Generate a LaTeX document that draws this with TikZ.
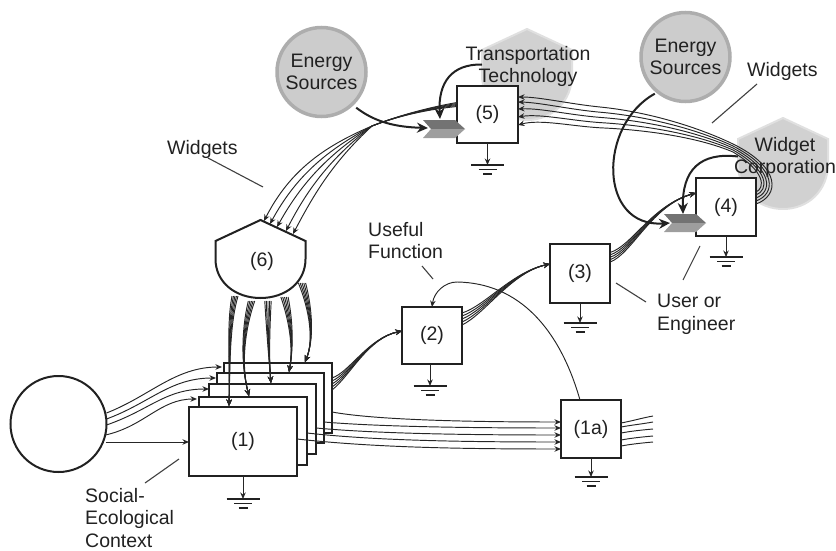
\documentclass[tikz,border=0pt]{standalone}
\usepackage{fontspec}
\setmainfont{Liberation Sans}
\usetikzlibrary{arrows.meta,calc}
\definecolor{ink}{gray}{0.13}
\tikzset{
  x=1pt,y=-1pt,
  txt/.style={font=\fontsize{19.5}{22.5}\selectfont,text=ink,align=left,inner sep=0pt},
  boxn/.style={draw=ink,line width=2pt,fill=white,inner sep=0pt,outer sep=0pt,font=\fontsize{19.5}{23}\selectfont,text=ink},
  grayc/.style={circle,draw=black!32,line width=3.5pt,fill=black!20,minimum size=89pt,inner sep=0pt,align=center,font=\fontsize{19.5}{22.5}\selectfont,text=ink},
  whitec/.style={circle,draw=ink,line width=2pt,fill=white,minimum size=96pt,inner sep=0pt,outer sep=0pt},
  thin line/.style={draw=black!85,line width=0.95pt},
  small arrow/.style={thin line,-{Stealth[length=6.5pt,width=5.5pt]}},
  big arrow/.style={draw=ink,line width=2pt,-{Stealth[length=11pt,width=10pt]}},
  leader/.style={draw=black!75,line width=1.1pt},
}
\newcommand{\boxat}[6]{\node[boxn,minimum width=#4,minimum height=#5] (#1) at (#2,#3) {#6};}
\newcommand{\gnd}[4]{%
  \coordinate (#1) at ([xshift=#3]#2.south |- 0,#4);
  \draw[small arrow] ([xshift=#3]#2.south) -- (#1);
  \draw[draw=ink,line width=1.6pt] ($(#1)+(-16.5,0)$) -- ($(#1)+(16.5,0)$);
  \draw[draw=ink,line width=1.6pt] ($(#1)+(-9,4.5)$) -- ($(#1)+(9,4.5)$);
  \draw[draw=ink,line width=1.8pt] ($(#1)+(-4.5,9)$) -- ($(#1)+(4.5,9)$);
}
% hood: apex x, apex y, height, style
\newcommand{\hood}[4]{\path[#4] (#1,#2) -- (#1+45,#2+21) -- (#1+45,#2+#3*0.5) .. controls (#1+45,#2+#3*0.8) and (#1+25,#2+#3) .. (#1,#2+#3) .. controls (#1-25,#2+#3) and (#1-45,#2+#3*0.8) .. (#1-45,#2+#3*0.5) -- (#1-45,#2+21) -- cycle;}
\newcommand{\chev}[2]{%
  \fill[black!55] (#1,#2) -- (#1+32,#2) -- (#1+42,#2+9) -- (#1+8,#2+9) -- cycle;
  \fill[black!38] (#1+8,#2+9) -- (#1+42,#2+9) -- (#1+32,#2+18) -- (#1,#2+18) -- cycle;
}
\begin{document}
\begin{tikzpicture}
\useasboundingbox (0,0) rectangle (836,551);
% gray shapes
\hood{527}{29}{91}{fill=black!18,draw=black!12,line width=2pt}
\hood{783}{118}{91}{fill=black!18,draw=black!12,line width=2pt}
\node[grayc] (es1) at (321.5,72) {Energy\\Sources};
\node[grayc] (es2) at (685.5,57) {Energy\\Sources};
% labels
\node[txt,align=center] (ttech) at (528,66.5) {Transportation\\Technology};
\node[txt,align=center] (wcorp) at (785,157.5) {Widget\\Corporation};
\node[txt,anchor=west] (wl) at (167,149) {Widgets};
\node[txt,anchor=west] (wr) at (747,71) {Widgets};
\node[txt,anchor=west] (uf) at (368,240.5) {Useful\\Function};
\node[txt,anchor=west] (ue) at (657,314.5) {User or\\Engineer};
\node[txt,anchor=west] (sec) at (85,518) {Social-\\Ecological\\Context};
% leaders
\coordinate (l1a) at (208,158); \coordinate (l1b) at (263,187);
\coordinate (l2a) at (757,84); \coordinate (l2b) at (712,123);
\coordinate (l3a) at (422,266); \coordinate (l3b) at (433,279);
\coordinate (l4a) at (616,283); \coordinate (l4b) at (646,302);
\coordinate (l5a) at (700,246); \coordinate (l5b) at (683,280);
\coordinate (l6a) at (179,459); \coordinate (l6b) at (145,483);
\foreach \p/\q in {l1a/l1b,l2a/l2b,l3a/l3b,l4a/l4b,l5a/l5b,l6a/l6b} \draw[leader] (\p) -- (\q);
% left circle
\node[whitec] (ctx) at (58.5,424) {};
% stacked boxes
\boxat{st5}{278}{398}{108pt}{70pt}{}
\boxat{st4}{270.5}{408}{107pt}{70pt}{}
\boxat{st3}{262.5}{419}{107pt}{70pt}{}
\boxat{st2}{253}{431}{108pt}{68pt}{}
\boxat{st1}{243}{441.5}{108pt}{69pt}{(1)}
\boxat{b2}{432}{335.5}{60pt}{57pt}{(2)}
\boxat{b3}{580}{273.5}{60pt}{59pt}{(3)}
\boxat{b1a}{591}{429}{60pt}{58pt}{(1a)}
\boxat{b5}{487.5}{114.5}{61pt}{57pt}{(5)}
\boxat{b4}{726}{207}{60pt}{58pt}{(4)}
% grounds
\gnd{g1}{st1}{0pt}{499}
\gnd{g2}{b2}{-2pt}{386}
\gnd{g3}{b3}{0pt}{323}
\gnd{g1a}{b1a}{0pt}{477}
\gnd{g5}{b5}{0pt}{165}
\gnd{g4}{b4}{0pt}{257}
% hood (6)
\hood{260.5}{220}{78}{fill=white,draw=ink,line width=2pt,line join=miter}
\node[txt] (n6) at (262,261) {(6)};
% context -> stack
\draw[small arrow] ([yshift=11pt]ctx.east) .. controls (150,396) and (175,367) .. ([xshift=-2pt,yshift=-4pt]st5.north west);
\draw[small arrow] ([yshift=5pt]ctx.east) .. controls (150,403) and (170,378) .. ([xshift=-1pt,yshift=-5pt]st4.north west);
\draw[small arrow] ([yshift=-1pt]ctx.east) .. controls (150,410) and (165,389) .. ([yshift=-5pt]st3.north west);
\draw[small arrow] ([xshift=-1pt,yshift=-11pt]ctx.east) .. controls (145,426) and (160,399) .. ([xshift=-2pt,yshift=-2pt]st2.north west);
\draw[small arrow] ([xshift=-1pt,yshift=-18pt]ctx.east) -- ([yshift=-0.5pt]st1.west);
% hood -> stack bundles
\coordinate (t1) at ([xshift=-14pt,yshift=1pt]st1.north);
\coordinate (t2) at ([xshift=-4pt,yshift=1pt]st2.north);
\coordinate (t3) at ([xshift=8.5pt,yshift=1pt]st3.north);
\coordinate (t4) at ([xshift=18.5pt,yshift=1pt]st4.north);
\coordinate (t5) at ([xshift=27pt,yshift=1pt]st5.north);
\foreach \k in {-2,...,2}{
  \draw[small arrow] ({235+1.5*\k},296) .. controls ({228+0.8*\k},325) and (230,365) .. (t1);
  \draw[small arrow] ({251.5+1.6*\k},301) .. controls ({243+0.8*\k},330) and (241,365) .. (t2);
  \draw[small arrow] ({268+1.6*\k},301) .. controls ({268+0.8*\k},330) and (269,360) .. (t3);
  \draw[small arrow] ({284.5+1.8*\k},297) .. controls ({292+0.8*\k},325) and (293,350) .. (t4);
  \draw[small arrow] ({302+1.8*\k},283) .. controls ({311+0.8*\k},310) and (314,340) .. (t5);
}
% stack -> (2)
\coordinate (in2) at ([yshift=4.5pt]b2.west);
\foreach \k in {0,...,4}{
  \draw[small arrow] ([yshift={(20-3*\k)*1pt}]st5.east) .. controls (350,{372+1*\k}) and (368,338) .. (in2);
}
% (2) -> (3)
\coordinate (in3) at ([yshift=9.5pt]b3.west);
\foreach \k in {0,...,4}{
  \draw[small arrow] ([yshift={(22.5-3*\k)*1pt}]b2.east) .. controls (485,{306+2*\k}) and (512,272) .. (in3);
}
% (3) -> (4)
\coordinate (in4) at ([yshift=14pt]b4.west);
\foreach \k in {0,...,4}{
  \draw[small arrow] ([yshift={(21-2.4*\k)*1pt}]b3.east) .. controls (632,{246+2*\k}) and (652,205) .. (in4);
}
% (1) -> (1a)
\coordinate (a1) at ([yshift=7pt]b1a.west);
\coordinate (a2) at ([yshift=1pt]b1a.west);
\coordinate (a3) at ([yshift=-6pt]b1a.west);
\coordinate (a4) at ([yshift=-13pt]b1a.west);
\coordinate (a5) at ([yshift=-20pt]b1a.west);
\draw[small arrow] ([yshift=-14pt]st5.east) .. controls (370,419) and (450,422) .. (a1);
\draw[small arrow] ([yshift=-14pt]st4.east) .. controls (370,426) and (450,428) .. (a2);
\draw[small arrow] ([yshift=-9pt]st3.east) .. controls (370,433) and (450,435) .. (a3);
\draw[small arrow] ([yshift=-2pt]st2.east) .. controls (370,440) and (450,442) .. (a4);
\draw[small arrow] ([yshift=2.5pt]st1.east) .. controls (370,447) and (450,449) .. (a5) ;
% (1a) outgoing
\coordinate (o1) at (653,416); \coordinate (o2) at (653,422); \coordinate (o3) at (653,429); \coordinate (o4) at (653,436); \coordinate (o5) at (653,442);
\draw[thin line] ([yshift=6pt]b1a.east) .. controls (632,421) and (642,418) .. (o1);
\draw[thin line] ([yshift=2pt]b1a.east) .. controls (632,425) and (642,424) .. (o2);
\draw[thin line] ([yshift=-4pt]b1a.east) .. controls (632,431) and (642,430) .. (o3);
\draw[thin line] ([yshift=-11pt]b1a.east) .. controls (632,438) and (642,437) .. (o4);
\draw[thin line] ([yshift=-17pt]b1a.east) .. controls (632,444) and (642,443) .. (o5);
% Useful function loop
\draw[small arrow] ([xshift=-11pt]b1a.north) .. controls (560,330) and (520,283) .. (457,282) .. controls (445,282) and (434,292) .. (b2.north);
% (5) -> hood
\coordinate (h1) at (264,221); \coordinate (h2) at (270,224); \coordinate (h3) at (277,227); \coordinate (h4) at (286,231); \coordinate (h5) at (293,234);
\foreach \k/\hh in {0/h1,1/h2,2/h3,3/h4,4/h5}{
  \draw[small arrow] ([yshift={(12-1*\k)*1pt}]b5.west) .. controls (425,{108+0.4*\k}) and (395,117) .. (372,126) .. controls ({325+2*\k},{146+4*\k}) and ({290+6*\k},{170+6*\k}) .. (\hh);
}
% (4) loop -> (5)
\foreach \k in {0,...,4}{
  \pgfmathsetmacro{\ey}{\k==0 ? 17.5 : (\k==1 ? 12.5 : (\k==2 ? 5.5 : (\k==3 ? -2.5 : -10.5)))}
  \draw[small arrow] ([yshift={(3+3*\k)*1pt}]b4.east)
    .. controls ({779-3.5*\k},{196-2*\k}) and ({782-4*\k},{168+1*\k}) .. (733,{144+2*\k})
    .. controls (700,{128+2.5*\k}) and (650,{112+4.5*\k}) .. (600,{107+5.2*\k})
    .. controls (570,{104+5.5*\k}) and (540,{97+5.5*\k}) .. ([yshift={\ey*1pt}]b5.east);
}
% chevrons
\chev{423}{120}
\chev{664}{214}
% thick arrows
\coordinate (c5) at (428,128);
\coordinate (c4) at (670,223);
\coordinate (c5t) at (440,119);
\coordinate (c4t) at (683,214);
\draw[big arrow] (es1.south east) ++(2,3) .. controls (375,122) and (395,127) .. (c5);
\draw[big arrow] (es2.south west) ++(2,4) .. controls (598,125) and (598,228) .. (c4);
\draw[big arrow] (ttech.center) ++(-46,-2) .. controls (452,64) and (438,82) .. (c5t);
\draw[big arrow] (wcorp.center) ++(-47,-1) .. controls (700,152) and (682,170) .. (c4t);
\end{tikzpicture}
\end{document}
